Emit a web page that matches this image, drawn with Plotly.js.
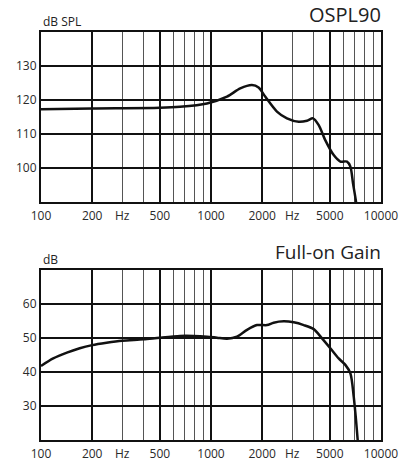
<!DOCTYPE html>
<html>
<head>
<meta charset="utf-8">
<script src="https://cdn.plot.ly/plotly-3.0.1.min.js"></script>
<style>html,body{margin:0;padding:0;background:#fff;}#chart{width:414px;height:461px;}</style>
</head>
<body>
<div id="chart"></div>
<script>
// OSPL90 curve (Hz, dB SPL)
const osplFreq = [100, 200, 500, 657, 947, 1242, 1486, 1741, 1905, 2084, 2443, 2798, 3281, 3672, 3981, 4302, 4700, 5270, 5767, 6309, 6606, 6845, 7129, 7250];
const osplDb   = [117.3, 117.5, 117.7, 118.0, 119.0, 121.0, 123.4, 124.4, 123.7, 121.0, 116.6, 114.6, 113.6, 113.9, 114.6, 112.6, 108.2, 103.8, 101.9, 101.9, 100.4, 95.5, 90.1, 87.0];
// Full-on gain curve (Hz, dB)
const gainFreq = [100, 118, 142, 169, 200, 243, 300, 400, 500, 657, 787, 947, 1084, 1242, 1422, 1629, 1866, 2136, 2337, 2677, 3066, 3511, 4019, 4497, 5032, 5635, 6170, 6606, 6914, 7129, 7293, 7400];
const gainDb   = [41.8, 44.0, 45.7, 47.0, 47.9, 48.6, 49.2, 49.6, 50.1, 50.6, 50.6, 50.4, 50.1, 49.8, 50.4, 52.4, 53.8, 53.8, 54.5, 54.9, 54.6, 53.8, 52.6, 49.9, 47.0, 44.0, 42.1, 39.6, 32.7, 25.9, 20.0, 17.0];

const xLabelVals = [100, 200, 300, 500, 1000, 2000, 3000, 5000, 10000];
const xLabelText = ['100', '200', 'Hz', '500', '1000', '2000', 'Hz', '5000', '10000'];
const xMajorGrid = [200, 500, 1000, 2000, 5000];
const xMinorGrid = [300, 400, 600, 700, 800, 900, 3000, 4000, 6000, 7000, 8000, 9000];
const osplTicks = [100, 110, 120, 130];
const gainTicks = [30, 40, 50, 60];

const font = {family: 'Open Sans, sans-serif', size: 12, color: '#2a2a2a'};
const lineStyle = {color: '#111', width: 2.5, shape: 'spline', smoothing: 0.8};

const traces = [
  {x: osplFreq, y: osplDb, xaxis: 'x', yaxis: 'y', mode: 'lines', line: lineStyle, hoverinfo: 'skip'},
  {x: gainFreq, y: gainDb, xaxis: 'x2', yaxis: 'y2', mode: 'lines', line: lineStyle, hoverinfo: 'skip'},
  {x: [], y: [], xaxis: 'x3', yaxis: 'y', mode: 'lines', showlegend: false},
  {x: [], y: [], xaxis: 'x4', yaxis: 'y2', mode: 'lines', showlegend: false}
];

function labelAxis(anchor) {
  return {type: 'log', range: [2, 4], anchor: anchor, tickmode: 'array', tickvals: xLabelVals, ticktext: xLabelText,
    showgrid: false, zeroline: false, showline: true, mirror: true, linecolor: '#111', linewidth: 2,
    ticks: '', ticklabelstandoff: 2, tickfont: font, fixedrange: true};
}
function gridAxis(over, anchor) {
  return {type: 'log', range: [2, 4], overlaying: over, anchor: anchor, tickmode: 'array', tickvals: xMajorGrid,
    showticklabels: false, ticks: '', showgrid: true, gridcolor: '#111', gridwidth: 2, zeroline: false, showline: false,
    minor: {tickmode: 'array', tickvals: xMinorGrid, showgrid: true, gridcolor: '#555', gridwidth: 1.2, ticks: ''}};
}
function yAxis(domain, range, ticks) {
  return {domain: domain, range: range, tickmode: 'array', tickvals: ticks, showgrid: true, gridcolor: '#111', gridwidth: 2,
    zeroline: false, showline: true, mirror: true, linecolor: '#111', linewidth: 2, ticks: '', tickfont: font, fixedrange: true};
}

const layout = {
  width: 414, height: 461,
  margin: {l: 41, r: 33, t: 32, b: 21, pad: 0},
  paper_bgcolor: '#fff', plot_bgcolor: '#fff',
  showlegend: false,
  xaxis: labelAxis('y'),
  xaxis2: labelAxis('y2'),
  xaxis3: gridAxis('x', 'y'),
  xaxis4: gridAxis('x2', 'y2'),
  yaxis: yAxis([0.5833, 1], [90, 140], osplTicks),
  yaxis2: yAxis([0, 0.4167], [20, 70], gainTicks),
  annotations: [
    {text: 'OSPL90', xref: 'paper', yref: 'paper', x: 1.005, y: 1.044, xanchor: 'right', yanchor: 'middle', showarrow: false,
      font: {family: 'Open Sans, sans-serif', size: 20, color: '#222'}},
    {text: 'dB SPL', xref: 'paper', yref: 'paper', x: 0, y: 1.025, xanchor: 'left', yanchor: 'middle', showarrow: false,
      font: {family: 'Open Sans, sans-serif', size: 12, color: '#222'}},
    {text: 'Full-on Gain', xref: 'paper', yref: 'paper', x: 1.005, y: 0.46, xanchor: 'right', yanchor: 'middle', showarrow: false,
      font: {family: 'Open Sans, sans-serif', size: 19, color: '#222'}},
    {text: 'dB', xref: 'paper', yref: 'paper', x: 0, y: 0.4436, xanchor: 'left', yanchor: 'middle', showarrow: false,
      font: {family: 'Open Sans, sans-serif', size: 12, color: '#222'}}
  ]
};

Plotly.newPlot('chart', traces, layout, {staticPlot: true, displayModeBar: false});
</script>
</body>
</html>
